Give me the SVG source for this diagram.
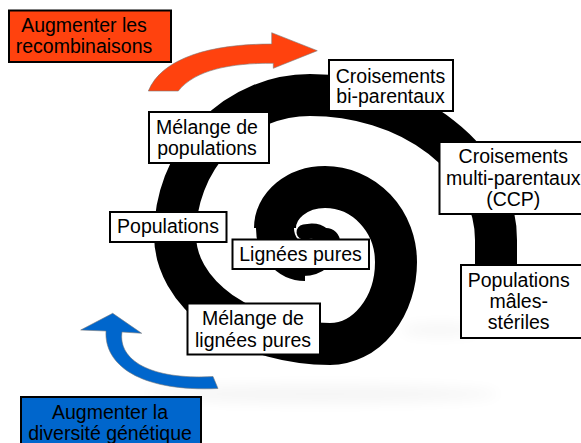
<svg xmlns="http://www.w3.org/2000/svg" width="581" height="443" viewBox="0 0 581 443">
  <defs>
    <filter id="soft" x="-10%" y="-10%" width="120%" height="120%">
      <feGaussianBlur stdDeviation="0.7"/>
    </filter>
    <filter id="shadowBlur" x="-50%" y="-200%" width="200%" height="500%">
      <feGaussianBlur stdDeviation="7"/>
    </filter>
  </defs>
  <style>
    .box { fill: #ffffff; stroke: #000000; stroke-width: 2; }
    .orange { fill: #ff420e; }
    .blue { fill: #0066cc; }
    .lbl { font-family: "Liberation Sans", Arial, sans-serif; font-size: 19.5px; fill: #000000; text-anchor: middle; }
    .spiral { fill: none; stroke: #000000; }
    .arrow { stroke: #7a7a7a; stroke-width: 0.6; stroke-linejoin: round; }
  </style>

  <rect width="581" height="443" fill="#ffffff"/>

  <!-- soft shadow under spiral -->
  <g id="shadow" filter="url(#shadowBlur)" opacity="0.04">
    <ellipse cx="320" cy="394" rx="180" ry="9" fill="#000"/>
    <ellipse cx="440" cy="330" rx="40" ry="6" fill="#000"/>
  </g>

  <!-- spiral -->
  <g id="spiral" filter="url(#soft)">
    <path class="spiral" stroke-width="42" d="M 496 285 L 496 240 A 186 145 0 0 0 310 95 A 135 140 0 0 0 175 235 A 155 109 0 0 0 330 344 A 66 82 0 0 0 396 262 A 71 75 0 0 0 325 187 A 50 41 0 0 0 275 228"/>
    <path class="spiral" stroke-width="38" d="M 275 227 A 30 34 0 0 0 305 262"/>
    <path class="spiral" stroke-width="28" stroke-linecap="round" d="M 303 262 A 23 20 0 0 0 326 242"/>
    <path class="spiral" stroke-width="15" stroke-linecap="round" d="M 326 243 A 14 11 0 0 0 312 231 L 304 232"/>
  </g>

  <!-- connectors (curved arrows) -->
  <g id="connectors">
    <path id="arrow-recomb" class="orange arrow" d="M 148.3 91 C 162 58, 210 44, 271.7 44 L 271.7 32.7 L 317.3 50.7 L 273.3 68.3 L 273.3 63.3 C 230 63, 195 70, 178.3 91 Z"/>
    <path id="arrow-diversite" class="blue arrow" d="M 112.7 313.3 L 141.7 333.3 L 122 332 C 118 360, 150 380, 213 376.5 L 218 388.5 C 140 392, 104 365, 106 331 L 80.7 330 Z"/>
  </g>

  <g id="node-recombinaisons">
    <rect x="9" y="10.5" width="162" height="51.5" fill="#ff420e" stroke="#000" stroke-width="2"/>
    <text class="lbl" x="84" y="32.3">Augmenter les</text>
    <text class="lbl" x="84" y="53.3">recombinaisons</text>
  </g>

  <g id="node-bi-parentaux">
    <rect class="box" x="329" y="60" width="124" height="51"/>
    <text class="lbl" x="390.5" y="82.7">Croisements</text>
    <text class="lbl" x="390.5" y="103.3">bi-parentaux</text>
  </g>

  <g id="node-melange-populations">
    <rect class="box" x="149" y="112" width="120" height="51"/>
    <text class="lbl" x="207" y="134">Mélange de</text>
    <text class="lbl" x="207" y="155">populations</text>
  </g>

  <g id="node-multi-parentaux">
    <rect class="box" x="439.5" y="142" width="150" height="72"/>
    <text class="lbl" x="513.3" y="163.3">Croisements</text>
    <text class="lbl" x="513.3" y="184.7">multi-parentaux</text>
    <text class="lbl" x="513.3" y="205.7">(CCP)</text>
  </g>

  <g id="node-populations">
    <rect class="box" x="110" y="212" width="116.5" height="30"/>
    <text class="lbl" x="168" y="233.3">Populations</text>
  </g>

  <g id="node-lignees-pures">
    <rect class="box" x="232.5" y="239.5" width="136.5" height="29.5"/>
    <text class="lbl" x="300.5" y="260.7">Lignées pures</text>
  </g>

  <g id="node-melange-lignees">
    <rect class="box" x="187.5" y="303.5" width="132.5" height="51"/>
    <text class="lbl" x="253" y="325">Mélange de</text>
    <text class="lbl" x="253" y="346.7">lignées pures</text>
  </g>

  <g id="node-males-steriles">
    <rect class="box" x="461" y="265" width="130" height="73"/>
    <text class="lbl" x="518.7" y="287.3">Populations</text>
    <text class="lbl" x="518.7" y="308.3">mâles-</text>
    <text class="lbl" x="518.7" y="329.3">stériles</text>
  </g>

  <g id="node-diversite">
    <rect x="21" y="397" width="180" height="60" fill="#0066cc" stroke="#000" stroke-width="2"/>
    <text class="lbl" x="110" y="419.3">Augmenter la</text>
    <text class="lbl" x="110" y="440">diversité génétique</text>
  </g>
</svg>
